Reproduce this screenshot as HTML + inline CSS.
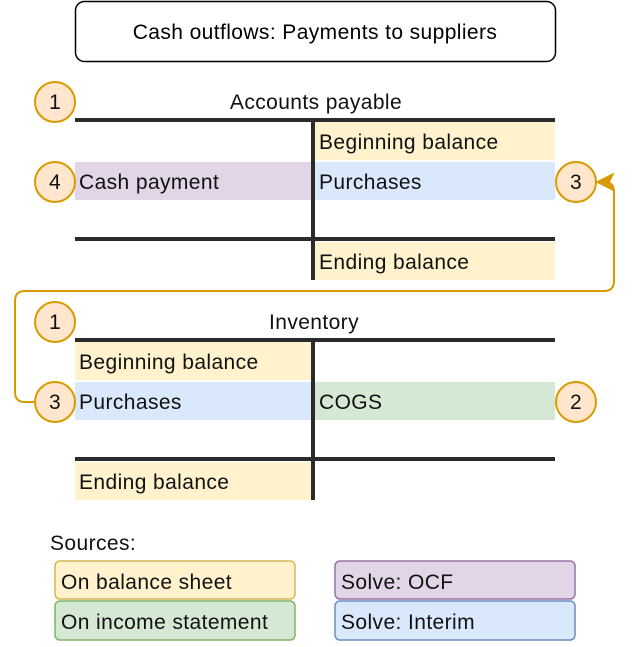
<!DOCTYPE html>
<html><head><meta charset="utf-8"><style>
html,body{margin:0;padding:0;background:#fff;}
text{font-family:"Liberation Sans",sans-serif;letter-spacing:0.4px;}
</style></head><body>
<svg width="632" height="642" xmlns="http://www.w3.org/2000/svg">
<rect x="75.5" y="1.5" width="480" height="60" rx="9" fill="#fff" stroke="#000" stroke-width="1.5"/>
<text x="315" y="39" font-size="21" text-anchor="middle">Cash outflows: Payments to suppliers</text>

<text x="316" y="109" font-size="21" text-anchor="middle" fill="#111">Accounts payable</text>
<rect x="315" y="122" width="240" height="38" fill="#fff2cc"/>
<rect x="315" y="162" width="240" height="38" fill="#dae8fc"/>
<rect x="75" y="162" width="236" height="38" fill="#e1d5e7"/>
<rect x="315" y="242" width="240" height="38" fill="#fff2cc"/>
<rect x="75" y="118" width="480" height="4" fill="#2b2b2b"/>
<rect x="75" y="237" width="480" height="4" fill="#2b2b2b"/>
<rect x="311" y="118" width="4" height="162" fill="#2b2b2b"/>
<text x="319" y="149" font-size="21" fill="#111">Beginning balance</text>
<text x="319" y="189" font-size="21" fill="#111">Purchases</text>
<text x="79" y="189" font-size="21" fill="#111">Cash payment</text>
<text x="319" y="269" font-size="21" fill="#111">Ending balance</text>

<text x="314" y="329" font-size="21" text-anchor="middle" fill="#111">Inventory</text>
<rect x="75" y="342" width="236" height="38" fill="#fff2cc"/>
<rect x="75" y="382" width="236" height="38" fill="#dae8fc"/>
<rect x="315" y="382" width="240" height="38" fill="#d5e8d4"/>
<rect x="75" y="462" width="236" height="38" fill="#fff2cc"/>
<rect x="75" y="338" width="480" height="4" fill="#2b2b2b"/>
<rect x="75" y="457" width="480" height="4" fill="#2b2b2b"/>
<rect x="311" y="338" width="4" height="162" fill="#2b2b2b"/>
<text x="79" y="369" font-size="21" fill="#111">Beginning balance</text>
<text x="79" y="409" font-size="21" fill="#111">Purchases</text>
<text x="319" y="409" font-size="21" fill="#111">COGS</text>
<text x="79" y="489" font-size="21" fill="#111">Ending balance</text>

<path d="M35,402 H25 Q15,402 15,392 V301 Q15,291 25,291 H604 Q614,291 614,281 V192 Q614,182 604,182 H606" fill="none" stroke="#d79b00" stroke-width="2"/>
<path d="M597,182 L613,174 L609,182 L613,190 Z" fill="#d79b00" stroke="#d79b00" stroke-width="1.5"/>

<g fill="#ffe6cc" stroke="#d79b00" stroke-width="2">
<circle cx="55" cy="102" r="20"/><circle cx="55" cy="182" r="20"/><circle cx="576" cy="182" r="20"/>
<circle cx="55" cy="322" r="20"/><circle cx="55" cy="402" r="20"/><circle cx="576" cy="402" r="20"/>
</g>
<g font-size="21" text-anchor="middle" fill="#111">
<text x="55" y="109">1</text><text x="55" y="189">4</text><text x="576" y="189">3</text>
<text x="55" y="329">1</text><text x="55" y="409">3</text><text x="576" y="409">2</text>
</g>

<text x="50" y="550" font-size="21" fill="#111">Sources:</text>
<rect x="55" y="561" width="240" height="38" rx="5" fill="#fff2cc" stroke="#d6b656" stroke-width="1.5"/>
<rect x="55" y="601" width="240" height="39" rx="5" fill="#d5e8d4" stroke="#82b366" stroke-width="1.5"/>
<rect x="335" y="561" width="240" height="38" rx="5" fill="#e1d5e7" stroke="#9673a6" stroke-width="1.5"/>
<rect x="335" y="601" width="240" height="39" rx="5" fill="#dae8fc" stroke="#6c8ebf" stroke-width="1.5"/>
<g font-size="21" fill="#111">
<text x="61" y="589">On balance sheet</text>
<text x="61" y="629">On income statement</text>
<text x="341" y="589">Solve: OCF</text>
<text x="341" y="629">Solve: Interim</text>
</g>
</svg>
</body></html>
